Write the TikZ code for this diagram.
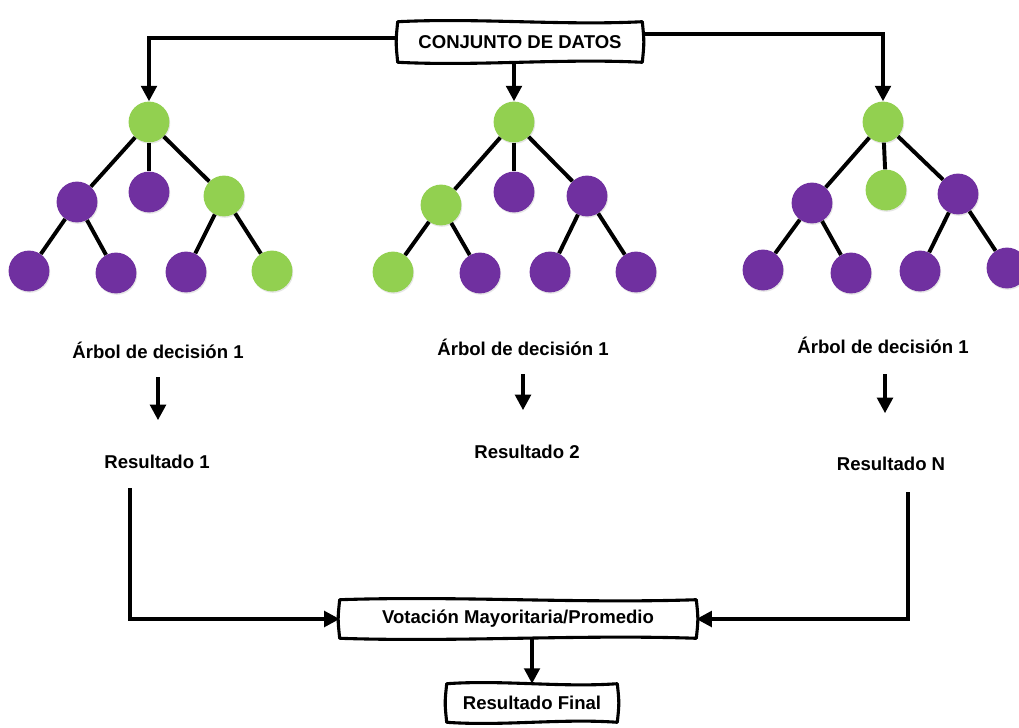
\documentclass[tikz,border=0pt]{standalone}
\usepackage{fontspec}
\setmainfont{Liberation Sans}
\usetikzlibrary{positioning}
\usetikzlibrary{calc}
\usetikzlibrary{arrows.meta}
\usetikzlibrary{shadows}
\definecolor{verde}{RGB}{146,208,80}
\definecolor{morado}{RGB}{112,48,160}

\tikzset{
  hoja/.style={circle, minimum size=1.02cm, inner sep=0pt,
    drop shadow={opacity=0.2, shadow xshift=0.6pt, shadow yshift=-1pt}},
  hv/.style={hoja, fill=verde},
  hm/.style={hoja, fill=morado},
  rama/.style={line width=2.8pt},
  flecha/.style={line width=2.6pt, -{Triangle[length=11pt, width=11pt]}},
  caja/.style={inner sep=0pt},
  borde/.style={line width=2.2pt, line join=round},
  texto/.style={font=\bfseries\fontsize{13.2}{16}\selectfont},
}
% wavy box round a node
\newcommand{\cinta}[1]{%
  \draw[borde] (#1.north west)
    .. controls ($(#1.north west)!0.33!(#1.north east)+(0,-4)$) and ($(#1.north west)!0.67!(#1.north east)+(0,4)$) .. (#1.north east)
    .. controls ($(#1.north east)!0.5!(#1.south east)+(2,0)$) .. (#1.south east)
    .. controls ($(#1.south east)!0.33!(#1.south west)+(0,-4)$) and ($(#1.south east)!0.67!(#1.south west)+(0,4)$) .. (#1.south west)
    .. controls ($(#1.south west)!0.5!(#1.north west)+(-2,0)$) .. cycle;}

\begin{document}
\begin{tikzpicture}[x=0.025cm, y=-0.025cm]
    \useasboundingbox (0, 0) rectangle (1019, 728);

    % conjunto de datos
    \node[caja, texto, minimum width=6.1cm, minimum height=1cm] (datos) at (520, 42) {CONJUNTO DE DATOS};
    \cinta{datos}

    % arbol 1
    \node[hv] (a0) at (149, 122) {};
    \node[hm] (a1) at (77, 202) {};
    \node[hm] (a2) at (149, 192) {};
    \node[hv] (a3) at (224, 196) {};
    \node[hm] (a4) at (29, 271) {};
    \node[hm] (a5) at (116, 273) {};
    \node[hm] (a6) at (186, 272) {};
    \node[hv] (a7) at (272, 271) {};

    % arbol 2
    \node[hv] (b0) at (514, 122) {};
    \node[hv] (b1) at (441, 205) {};
    \node[hm] (b2) at (514, 192) {};
    \node[hm] (b3) at (587, 196) {};
    \node[hv] (b4) at (393, 272) {};
    \node[hm] (b5) at (480, 273) {};
    \node[hm] (b6) at (550, 272) {};
    \node[hm] (b7) at (636, 272) {};

    % arbol 3
    \node[hv] (c0) at (883, 122) {};
    \node[hm] (c1) at (812, 203) {};
    \node[hv] (c2) at (886, 190) {};
    \node[hm] (c3) at (958, 194) {};
    \node[hm] (c4) at (763, 270) {};
    \node[hm] (c5) at (851, 273) {};
    \node[hm] (c6) at (920, 271) {};
    \node[hm] (c7) at (1007, 268) {};

    \foreach \t in {a, b, c} {
      \draw[rama] (\t0) -- (\t1);
      \draw[rama] (\t0) -- (\t2);
      \draw[rama] (\t0) -- (\t3);
      \draw[rama] (\t1) -- (\t4);
      \draw[rama] (\t1) -- (\t5);
      \draw[rama] (\t3) -- (\t6);
      \draw[rama] (\t3) -- (\t7);
    }

    \draw[flecha] ($(datos.west)+(0, -4)$) -| (a0.north);
    \draw[flecha] ($(datos.east)+(0, -8)$) -| (c0.north);
    \draw[flecha] (datos.south -| b0) -- (b0.north);

    % textos
    \node[texto] (arbol1) at (158, 350) {Árbol de decisión 1};
    \node[texto] (arbol2) at (523, 347) {Árbol de decisión 1};
    \node[texto] (arbol3) at (883, 345) {Árbol de decisión 1};
    \node[texto] (res1) at (157, 462) {Resultado 1};
    \node[texto] (res2) at (527, 452) {Resultado 2};
    \node[texto] (res3) at (891, 464) {Resultado N};

    \draw[flecha] ($(arbol1.south)+(0, 14)$) -- ($(res1.north)+(1, -30)$);
    \draw[flecha] ($(arbol2.south)+(0, 14)$) -- ($(res2.north)+(-4, -30)$);
    \draw[flecha] ($(arbol3.south)+(2, 16)$) -- ($(res3.north)+(-6, -39)$);

    % votacion
    \node[caja, texto, minimum width=8.9cm, minimum height=0.95cm] (voto) at (518, 619) {Votación Mayoritaria/Promedio};
    \cinta{voto}
    \node[caja, texto, minimum width=4.25cm, minimum height=0.95cm] (final) at (532, 703) {Resultado Final};
    \cinta{final}

    \coordinate (s1) at (130, 488);
    \coordinate (s3) at (908, 492);
    \draw[flecha] (s1) |- (voto.west);
    \draw[flecha] (s3) |- (voto.east);
    \draw[flecha] (voto.south -| final) -- (final.north);
  \end{tikzpicture}
\end{document}
